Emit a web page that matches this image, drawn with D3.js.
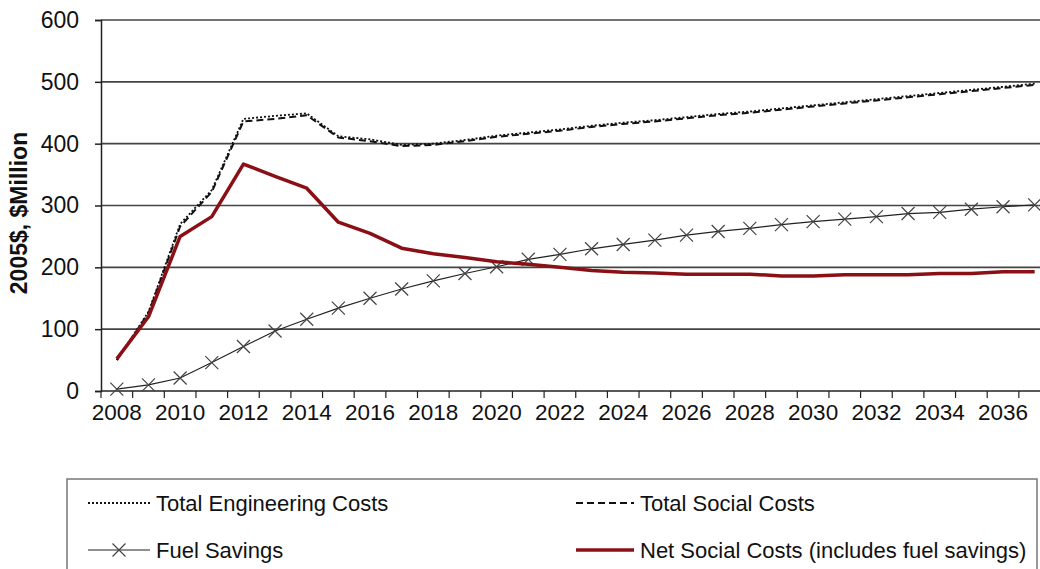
<!DOCTYPE html>
<html>
<head>
<meta charset="utf-8">
<script src="https://cdn.jsdelivr.net/npm/d3@7"></script>
<style>
  body { margin: 0; background: #fff; }
  svg { display: block; font-family: "Liberation Sans", Arial, sans-serif; }
</style>
</head>
<body>
<svg width="1040" height="569"></svg>
<script>
// years on the category axis
const years = d3.range(2008, 2038);

// series values, 2005$ million
const engineeringCosts = [50, 128, 270, 325, 440, 445, 449, 412, 407, 398, 400, 406, 413, 418, 423, 429, 434, 438, 443, 448, 452, 457, 462, 467, 472, 477, 482, 487, 492, 497];
const socialCosts = [50, 126, 266, 322, 436, 440, 446, 410, 404, 396, 398, 404, 411, 416, 421, 427, 432, 436, 441, 446, 450, 455, 460, 465, 470, 475, 480, 485, 490, 495];
const fuelSavings = [3, 10, 21, 46, 72, 97, 116, 134, 150, 165, 178, 190, 201, 213, 221, 230, 237, 244, 252, 258, 263, 269, 274, 278, 282, 287, 289, 294, 298, 301];
const netSocialCosts = [52, 120, 250, 282, 367, 347, 328, 273, 255, 231, 222, 216, 209, 205, 200, 195, 192, 191, 189, 189, 189, 186, 186, 188, 188, 188, 190, 190, 193, 193];

// tick labels
const yTicks = [0, 100, 200, 300, 400, 500, 600];
const xLabels = d3.range(2008, 2037, 2);

const svg = d3.select("svg");

const plotLeft = 101;
const plotTop = 20;
const plotBottom = 391;
const plotRight = 1040;

// band scale so points sit between the tick marks, like excel does
const x = d3.scaleBand().domain(years).range([plotLeft, plotLeft + years.length * 31.65]);
const y = d3.scaleLinear().domain([0, 600]).range([plotBottom, plotTop]);
const cx = (d) => x(d) + x.bandwidth() / 2;

// gridlines
svg
  .append("g")
  .selectAll("line")
  .data(yTicks.slice(1))
  .enter()
  .append("line")
  .attr("x1", plotLeft)
  .attr("x2", plotRight)
  .attr("y1", (d) => y(d))
  .attr("y2", (d) => y(d))
  .attr("stroke", "#444")
  .attr("stroke-width", 1.6);

// y axis
const yAxis = svg
  .append("g")
  .attr("transform", `translate(${plotLeft},0)`)
  .call(d3.axisLeft(y).tickValues(yTicks).tickSize(6).tickPadding(16));
yAxis.select(".domain").attr("stroke", "#222").attr("stroke-width", 1.5);
yAxis.selectAll(".tick line").attr("stroke", "#222").attr("stroke-width", 1.5);
yAxis
  .selectAll(".tick text")
  .attr("font-size", 23)
  .attr("fill", "#111")
  .attr("font-family", "Liberation Sans, Arial, sans-serif");

// x axis: tick marks on band edges, labels every other year
const xAxisG = svg.append("g");
xAxisG
  .append("line")
  .attr("x1", plotLeft)
  .attr("x2", plotRight)
  .attr("y1", plotBottom)
  .attr("y2", plotBottom)
  .attr("stroke", "#222")
  .attr("stroke-width", 1.6);
xAxisG
  .selectAll(".xtick")
  .data(years)
  .enter()
  .append("line")
  .attr("class", "xtick")
  .attr("x1", (d) => x(d))
  .attr("x2", (d) => x(d))
  .attr("y1", plotBottom)
  .attr("y2", plotBottom + 7)
  .attr("stroke", "#222")
  .attr("stroke-width", 1.2);
xAxisG
  .selectAll(".xlabel")
  .data(xLabels)
  .enter()
  .append("text")
  .attr("class", "xlabel")
  .attr("x", (d) => cx(d))
  .attr("y", plotBottom + 29)
  .attr("text-anchor", "middle")
  .attr("font-size", 22.5)
  .attr("fill", "#111")
  .text((d) => d);

// y axis title
svg
  .append("text")
  .attr("transform", `translate(27,213) rotate(-90)`)
  .attr("text-anchor", "middle")
  .attr("font-size", 23)
  .attr("font-weight", "bold")
  .attr("fill", "#111")
  .text("2005$, $Million");

const line = (vals) =>
  d3
    .line()
    .x((d, i) => cx(years[i]))
    .y((d) => y(d))(vals);

const plot = svg.append("g");

// fuel savings, thin line with x markers
plot
  .append("path")
  .attr("d", line(fuelSavings))
  .attr("fill", "none")
  .attr("stroke", "#222")
  .attr("stroke-width", 1.2);

const marker = (g, px, py) => {
  const s = 6.5;
  g.append("path")
    .attr("d", `M${px - s},${py - s}L${px + s},${py + s}M${px - s},${py + s}L${px + s},${py - s}`)
    .attr("stroke", "#444")
    .attr("stroke-width", 1.2);
};
fuelSavings.forEach((d, i) => marker(plot, cx(years[i]), y(d)));

// the two cost lines, nearly on top of each other
plot
  .append("path")
  .attr("d", line(socialCosts))
  .attr("fill", "none")
  .attr("stroke", "#111")
  .attr("stroke-width", 2)
  .attr("stroke-dasharray", "7,4");
plot
  .append("path")
  .attr("d", line(engineeringCosts))
  .attr("fill", "none")
  .attr("stroke", "#111")
  .attr("stroke-width", 1.8)
  .attr("stroke-dasharray", "2,2");

// net social costs
plot
  .append("path")
  .attr("d", line(netSocialCosts))
  .attr("fill", "none")
  .attr("stroke", "#8b1016")
  .attr("stroke-width", 3.5)
  .attr("stroke-linejoin", "round");

// legend
const legend = svg.append("g").attr("id", "legend");
legend
  .append("rect")
  .attr("x", 67)
  .attr("y", 479)
  .attr("width", 970)
  .attr("height", 120)
  .attr("fill", "none")
  .attr("stroke", "#777")
  .attr("stroke-width", 1.5);

const items = [
  { name: "Total Engineering Costs", col: 0, row: 0 },
  { name: "Total Social Costs", col: 1, row: 0 },
  { name: "Fuel Savings", col: 0, row: 1 },
  { name: "Net Social Costs (includes fuel savings)", col: 1, row: 1 },
];
const symX = [[88, 150], [576, 634]];
const textX = [156, 640];
const rowY = [503, 550];

items.forEach((it, i) => {
  const [x0, x1] = symX[it.col];
  const y0 = rowY[it.row];
  const sym = legend.append("line").attr("x1", x0).attr("x2", x1).attr("y1", y0).attr("y2", y0);
  if (i === 0) sym.attr("stroke", "#111").attr("stroke-width", 1.8).attr("stroke-dasharray", "2,2");
  if (i === 1) sym.attr("stroke", "#111").attr("stroke-width", 2).attr("stroke-dasharray", "7,4");
  if (i === 2) {
    sym.attr("stroke", "#222").attr("stroke-width", 1.2);
    marker(legend, (x0 + x1) / 2, y0);
  }
  if (i === 3) sym.attr("stroke", "#8b1016").attr("stroke-width", 3.5);
  legend
    .append("text")
    .attr("x", textX[it.col])
    .attr("y", y0 + 8)
    .attr("font-size", 22)
    .attr("fill", "#111")
    .text(it.name);
});
</script>
</body>
</html>
